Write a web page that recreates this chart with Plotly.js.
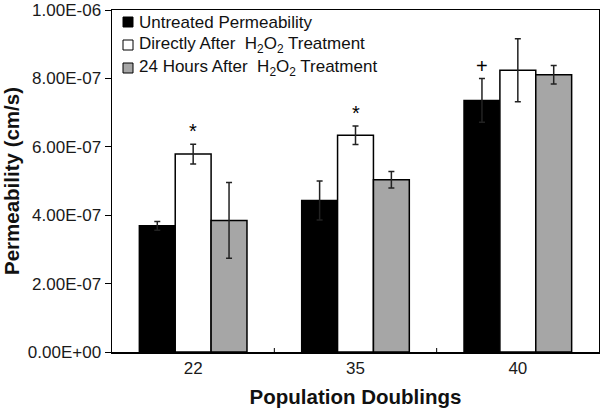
<!DOCTYPE html>
<html>
<head>
<meta charset="utf-8">
<script src="https://cdn.plot.ly/plotly-3.0.1.min.js"></script>
<style>html,body{margin:0;padding:0;background:#fff;}#chart{width:600px;height:409px;}</style>
</head>
<body>
<div id="chart"></div>
<script>
const categories = ["22", "35", "40"];
const seriesNames = ["Untreated Permeability", "Directly After&nbsp; H<sub>2</sub>O<sub>2</sub> Treatment", "24 Hours After&nbsp; H<sub>2</sub>O<sub>2</sub> Treatment"];
const untreated = [3.69e-7, 4.43e-7, 7.36e-7];
const untreatedErr = [0.13e-7, 0.57e-7, 0.64e-7];
const directly = [5.79e-7, 6.34e-7, 8.24e-7];
const directlyErr = [0.29e-7, 0.27e-7, 0.92e-7];
const hours24 = [3.85e-7, 5.04e-7, 8.11e-7];
const hours24Err = [1.11e-7, 0.24e-7, 0.27e-7];
const yTickVals = [0, 2e-7, 4e-7, 6e-7, 8e-7, 1e-6];
const yTickText = ["0.00E+00", "2.00E-07", "4.00E-07", "6.00E-07", "8.00E-07", "1.00E-06"];
const markLabels = [
  {series: 1, cat: 0, text: "*"},
  {series: 1, cat: 1, text: "*"},
  {series: 0, cat: 2, text: "+"}
];

const colors = ["#000000", "#ffffff", "#a6a6a6"];
const values = [untreated, directly, hours24];
const errs = [untreatedErr, directlyErr, hours24Err];
const bargap = 0.337;
const font = "Liberation Sans, Arial, sans-serif";

// plot area geometry in pixels
const W = 600, H = 409, ML = 112, MR = 1, MT = 10, MB = 57;
const PW = W - ML - MR, PH = H - MT - MB;
const px2x = p => (p - ML) / PW;
const py2y = p => (H - MB - p) / PH;

const traces = values.map((v, i) => ({
  type: "bar",
  name: seriesNames[i],
  x: [0, 1, 2],
  y: v,
  showlegend: false,
  marker: {color: colors[i], line: {color: "#000", width: 1.5}},
  error_y: {type: "data", array: errs[i], visible: true, color: "#222", thickness: 1.5, width: 3}
}));

const barW = (1 - bargap) / 3;
const annotations = markLabels.map(m => ({
  x: m.cat + (m.series - 1) * barW,
  y: values[m.series][m.cat] + errs[m.series][m.cat],
  xref: "x", yref: "y",
  text: m.text, showarrow: false,
  yanchor: "bottom", yshift: 0,
  font: {family: font, size: 20, color: "#000"}
}));

// custom legend (inside top-left)
const legendRowsY = [22, 45, 68];
const shapes = [];
seriesNames.forEach((name, i) => {
  const cy = legendRowsY[i];
  shapes.push({type: "rect", xref: "paper", yref: "paper",
    x0: px2x(123), x1: px2x(133), y0: py2y(cy + 5), y1: py2y(cy - 5),
    fillcolor: colors[i], line: {color: "#000", width: 1}});
  annotations.push({xref: "paper", yref: "paper", x: px2x(137), y: py2y(cy),
    xanchor: "left", yanchor: "middle", showarrow: false, text: name,
    font: {family: font, size: 17, color: "#111"}});
});
// category boundary ticks on x axis (inside)
[0.5, 1.5].forEach(b => shapes.push({type: "line", xref: "x", yref: "paper", x0: b, x1: b, y0: 0, y1: 4 / PH, line: {color: "#000", width: 1}}));

const layout = {
  width: W, height: H,
  margin: {l: ML, r: MR, t: MT, b: MB},
  paper_bgcolor: "#fff", plot_bgcolor: "#fff",
  barmode: "group", bargap: bargap, bargroupgap: 0,
  font: {family: font, size: 17, color: "#1a1a1a"},
  showlegend: false,
  xaxis: {
    range: [-0.5, 2.5],
    tickvals: [0, 1, 2], ticktext: categories,
    tickfont: {size: 17},
    showline: true, linecolor: "#000", linewidth: 1.5, mirror: true,
    ticks: "", showgrid: false, zeroline: false,
    title: {text: "<b>Population Doublings</b>", font: {family: font, size: 20.5, color: "#111"}, standoff: 12}
  },
  yaxis: {
    range: [0, 1.0004e-6],
    tickvals: yTickVals, ticktext: yTickText,
    tickfont: {size: 17},
    ticklabeloverflow: "allow",
    showline: true, linecolor: "#000", linewidth: 1.5, mirror: true,
    ticks: "outside", ticklen: 6, tickcolor: "#000", tickwidth: 1,
    showgrid: false, zeroline: false,
    title: {text: "<b>Permeability (cm/s)</b>", font: {family: font, size: 20.5, color: "#111"}, standoff: 6}
  },
  annotations: annotations,
  shapes: shapes
};

Plotly.newPlot("chart", traces, layout, {displayModeBar: false, staticPlot: true});
</script>
</body>
</html>
